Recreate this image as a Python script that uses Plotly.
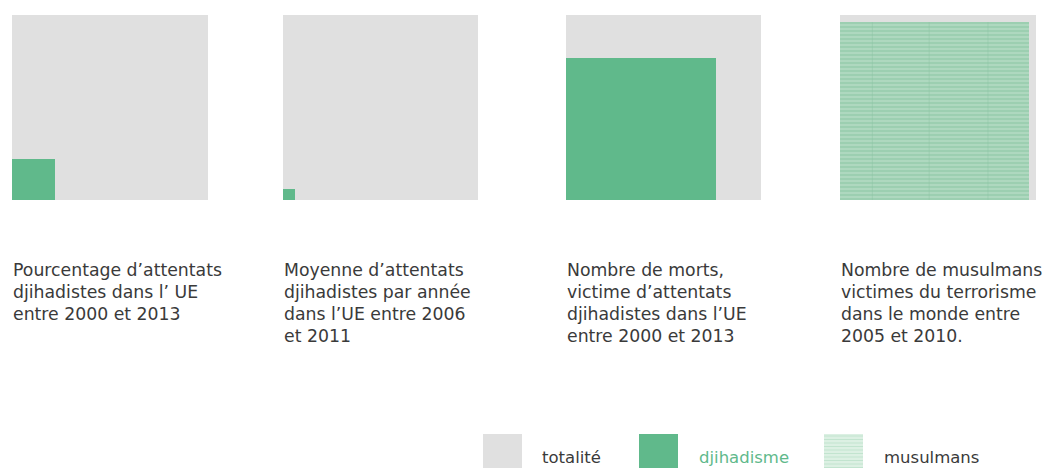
import math
import plotly.graph_objects as go

# ---- data ----
panel_labels = [
    ["Pourcentage d\u2019attentats", "djihadistes dans l\u2019 UE", "entre 2000 et 2013"],
    ["Moyenne d\u2019attentats", "djihadistes par ann\u00e9e", "dans l\u2019UE entre 2006", "et 2011"],
    ["Nombre de morts,", "victime d\u2019attentats", "djihadistes dans l\u2019UE", "entre 2000 et 2013"],
    ["Nombre de musulmans", "victimes du terrorisme", "dans le monde entre", "2005 et 2010."],
]
# share of the total (area of the coloured square relative to the grey one)
share_values = [0.048, 0.0038, 0.59, 0.925]
share_kind = ["djihadisme", "djihadisme", "djihadisme", "musulmans"]
legend_labels = ["totalit\u00e9", "djihadisme", "musulmans"]

# ---- styles ----
OFF = 8  # page body margin
W, H = 1059 - OFF, 468 - OFF
GREY = "#e0e0e0"
GREEN = "#60b98b"
STRIPE_BG = "#9ccfb1"
STRIPE_FG = "#c3e4d0"
TEXT = "#3a3a3a"
FONT = "DejaVu Sans"
FSIZE = 17.3
LSIZE = 16.5


def px_x(v):
    return (v - OFF) / W


def px_y(v):
    return 1 - (v - OFF) / H


panel_px = [(12, 208), (283, 478), (566, 761), (840, 1036)]
top_px, bottom_px = 15, 200

fig = go.Figure()
layout_axes = {}
for i, (x0, x1) in enumerate(panel_px):
    n = i + 1
    xa = "x" if n == 1 else f"x{n}"
    ya = "y" if n == 1 else f"y{n}"
    side = math.sqrt(share_values[i])
    # total (grey) square
    fig.add_trace(go.Bar(x=[0.5], y=[1], width=[1], base=[0], xaxis=xa, yaxis=ya,
                         marker=dict(color=GREY, line=dict(width=0)), showlegend=False,
                         hoverinfo="skip"))
    if share_kind[i] == "musulmans":
        marker = dict(color=STRIPE_BG, line=dict(width=0),
                      pattern=dict(shape="-", size=4, solidity=0.45,
                                   fgcolor=STRIPE_FG, bgcolor=STRIPE_BG, fillmode="overlay"))
    else:
        marker = dict(color=GREEN, line=dict(width=0))
    fig.add_trace(go.Bar(x=[side / 2], y=[side], width=[side], base=[0], xaxis=xa, yaxis=ya,
                         marker=marker, showlegend=False, hoverinfo="skip"))
    if share_kind[i] == "musulmans":
        for gx in (0.165, 0.455, 0.755):
            fig.add_shape(type="line", xref=xa, yref=ya, x0=gx, x1=gx, y0=0, y1=side,
                          line=dict(color="#8cc4a3", width=1), opacity=0.45)
    key = "" if n == 1 else str(n)
    layout_axes[f"xaxis{key}"] = dict(domain=[px_x(x0), px_x(x1)], range=[0, 1], visible=False,
                                      fixedrange=True, anchor=ya)
    layout_axes[f"yaxis{key}"] = dict(domain=[px_y(bottom_px), px_y(top_px)], range=[0, 1],
                                      visible=False, fixedrange=True, anchor=xa)
    # labels, one annotation per line
    for j, line in enumerate(panel_labels[i]):
        fig.add_annotation(xref="paper", yref="paper", x=px_x(x0 - 1), y=px_y(270 + 22 * j),
                           xanchor="left", yanchor="middle", text=line, showarrow=False,
                           font=dict(family=FONT, size=FSIZE, color=TEXT))

fig.update_layout(**layout_axes)

# ---- legend ----
sw = [(483, 522), (639, 678), (824, 863)]
sw_top = 434
legend_text_x = [540, 697, 882]
legend_text_col = [TEXT, GREEN, TEXT]
for k, (a, b) in enumerate(sw):
    if k == 2:
        fig.add_shape(type="rect", xref="paper", yref="paper", x0=px_x(a), x1=px_x(b),
                      y0=0, y1=px_y(sw_top), fillcolor="#dcf0e3", line=dict(width=0), layer="below")
        yy = sw_top + 2
        while yy < 468:
            fig.add_shape(type="line", xref="paper", yref="paper", x0=px_x(a), x1=px_x(b),
                          y0=px_y(yy), y1=px_y(yy), line=dict(color="#c2e4cf", width=1))
            yy += 3.5
    else:
        fig.add_shape(type="rect", xref="paper", yref="paper", x0=px_x(a), x1=px_x(b),
                      y0=0, y1=px_y(sw_top), fillcolor=[GREY, GREEN][k], line=dict(width=0),
                      layer="below")
    fig.add_annotation(xref="paper", yref="paper", x=px_x(legend_text_x[k]), y=px_y(457),
                       xanchor="left", yanchor="middle", text=legend_labels[k], showarrow=False,
                       font=dict(family=FONT, size=LSIZE, color=legend_text_col[k]))

fig.update_layout(width=W, height=H, margin=dict(l=0, r=0, t=0, b=0),
                  paper_bgcolor="white", plot_bgcolor="white", barmode="overlay",
                  bargap=0, showlegend=False)
fig.write_html("out.html")
